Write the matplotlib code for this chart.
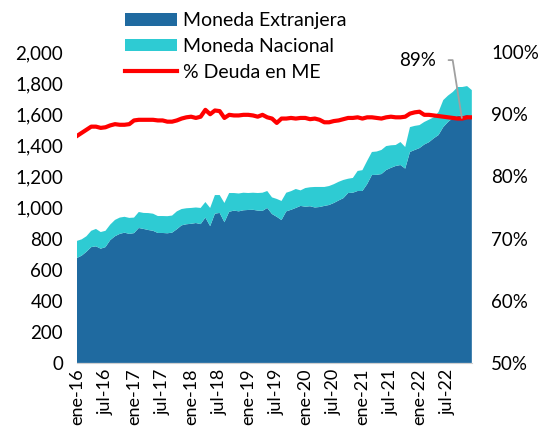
import matplotlib
matplotlib.use("Agg")
import matplotlib.pyplot as plt
import numpy as np

# monthly, ene-16 .. dic-22
moneda_extranjera = [
    675, 690, 715, 745, 750, 735, 745, 790, 815, 830, 838, 830,
    835, 868, 862, 855, 850, 836, 836, 834, 838, 860, 885, 892,
    895, 900, 893, 935, 880, 960, 965, 905, 972, 980, 975, 982,
    984, 985, 980, 978, 997, 958, 940, 919, 975, 985, 997, 1010,
    1005, 1008, 1000, 1003, 1010, 1016, 1029, 1045, 1060, 1093, 1095, 1106,
    1106, 1150, 1209, 1210, 1215, 1241, 1255, 1267, 1273, 1250, 1357, 1370,
    1382, 1405, 1420, 1445, 1466, 1517, 1550, 1575, 1588, 1592, 1595, 1590,
]
total = [
    785, 795, 815, 850, 862, 842, 850, 890, 920, 935, 940, 933,
    935, 971, 965, 964, 960, 945, 945, 944, 948, 975, 990, 995,
    997, 1000, 997, 1035, 997, 1080, 1080, 1029, 1093, 1093, 1090, 1095,
    1093, 1095, 1093, 1095, 1106, 1065, 1055, 1042, 1095, 1105, 1119, 1110,
    1125, 1130, 1132, 1132, 1132, 1138, 1150, 1165, 1177, 1185, 1190, 1235,
    1240, 1300, 1357, 1360, 1370, 1395, 1400, 1402, 1421, 1389, 1517, 1525,
    1530, 1550, 1565, 1580, 1614, 1691, 1720, 1743, 1775, 1775, 1781, 1755,
]
moneda_nacional = [t - e for t, e in zip(total, moneda_extranjera)]
pct_me = [
    86.5, 87.0, 87.5, 88.0, 88.0, 87.8, 87.9, 88.2, 88.4, 88.3, 88.3, 88.4,
    89.0, 89.1, 89.1, 89.1, 89.1, 89.0, 89.0, 88.8, 88.8, 89.0, 89.3, 89.5,
    89.6, 89.4, 89.6, 90.7, 90.0, 90.6, 90.5, 89.4, 89.9, 89.8, 89.8, 89.9,
    89.9, 89.8, 89.6, 89.9, 89.5, 89.3, 88.6, 89.3, 89.3, 89.4, 89.3, 89.4,
    89.4, 89.2, 89.3, 89.1, 88.7, 88.7, 88.9, 89.0, 89.2, 89.4, 89.4, 89.5,
    89.3, 89.5, 89.5, 89.4, 89.3, 89.5, 89.6, 89.5, 89.5, 89.6, 90.1, 90.3,
    90.4, 89.9, 89.9, 89.8, 89.7, 89.6, 89.5, 89.4, 89.3, 89.3, 89.5, 89.5,
]
tick_labels = ["ene-16", "jul-16", "ene-17", "jul-17", "ene-18", "jul-18",
               "ene-19", "jul-19", "ene-20", "jul-20", "ene-21", "jul-21",
               "ene-22", "jul-22"]

plt.rcParams["font.family"] = ["Lato", "DejaVu Sans"]
FS = 13.5

x = np.arange(len(total))
fig = plt.figure(figsize=(5.38, 4.30), dpi=100)
ax = fig.add_axes([0.143, 0.156, 0.734, 0.723])
ax.stackplot(x, moneda_extranjera, moneda_nacional,
             colors=["#1F6AA0", "#2ECBD3"], linewidth=0,
             labels=["Moneda Extranjera", "Moneda Nacional"])
ax.set_xlim(0, len(total) - 1)
ax.set_ylim(0, 2000)
ax.set_yticks(range(0, 2001, 200))
ax.yaxis.set_major_formatter(matplotlib.ticker.FuncFormatter(lambda v, p: f"{int(v):,}"))
ax.set_xticks(x[::6])
ax.set_xticklabels(tick_labels, rotation=90)
for s in ["top", "right", "left"]:
    ax.spines[s].set_visible(False)
ax.spines["bottom"].set_color("#D0D0D0")
ax.tick_params(length=0, labelsize=FS, colors="black")
ax.tick_params(axis="y", pad=10)
ax.tick_params(axis="x", pad=4, labelsize=13)

ax2 = ax.twinx()
ax2.plot(x, pct_me, color="#FF0000", lw=3, label="% Deuda en ME")
ax2.set_ylim(50, 100)
ax2.set_yticks(range(50, 101, 10))
ax2.set_yticklabels([f"{v}%" for v in range(50, 101, 10)])
for s in ax2.spines.values():
    s.set_visible(False)
ax2.tick_params(length=0, labelsize=FS, pad=14)

# callout for latest value
ax2.annotate("89%", xy=(80.9, 89.4), xytext=(71.6, 98.7),
             fontsize=FS, ha="center", va="center",
             arrowprops=dict(arrowstyle="-", color="#A0A0A0", lw=1.3,
                             connectionstyle="angle,angleA=0,angleB=99,rad=0",
                             shrinkA=7, shrinkB=0))

h1, l1 = ax.get_legend_handles_labels()
h2, l2 = ax2.get_legend_handles_labels()
fig.legend(h1 + h2, l1 + l2, loc="upper left", bbox_to_anchor=(0.2, 1.012),
           frameon=False, fontsize=14, handlelength=2.65, handleheight=0.6,
           labelspacing=0.45, handletextpad=0.35)

fig.savefig("out.png", dpi=100)
